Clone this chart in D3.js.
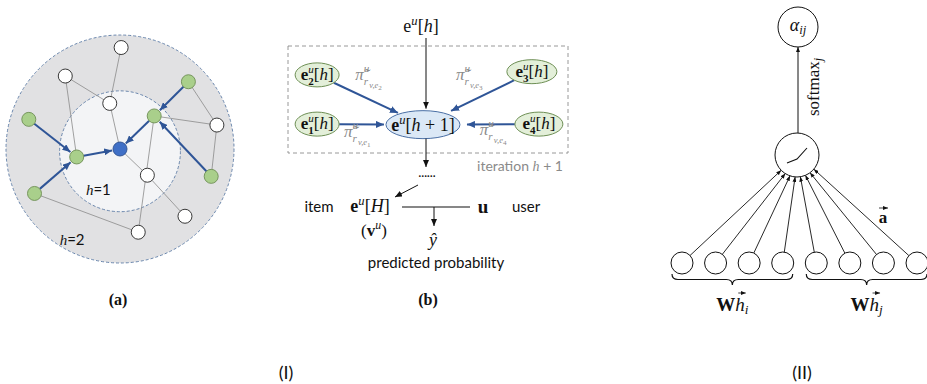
<!doctype html>
<html lang="en">
<head>
<meta charset="UTF-8">
<title>KGAT / GAT figure</title>
<script src="https://cdn.jsdelivr.net/npm/d3@7"></script>
<style>
  body { margin: 0; background: #fff; }
  text { fill: #111; }
</style>
</head>
<body>
<svg id="fig" width="927" height="384"></svg>
<script>
// ---------- panel (a): graph, in units of the outer ring radius ----------
const graphNodes = [
  {id: 'w0', kind: 'white', x: 0.01, y: -0.89},
  {id: 'w1', kind: 'white', x: -0.48, y: -0.64},
  {id: 'w2', kind: 'white', x: -0.09, y: -0.40},
  {id: 'g0', kind: 'green', x: 0.60, y: -0.59},
  {id: 'g1', kind: 'green', x: 0.30, y: -0.29},
  {id: 'w3', kind: 'white', x: 0.85, y: -0.21},
  {id: 'g2', kind: 'green', x: -0.80, y: -0.26},
  {id: 'g3', kind: 'green', x: -0.38, y: 0.07},
  {id: 'c', kind: 'target', x: 0, y: 0},
  {id: 'w4', kind: 'white', x: 0.24, y: 0.23},
  {id: 'g4', kind: 'green', x: 0.80, y: 0.24},
  {id: 'g5', kind: 'green', x: -0.75, y: 0.39},
  {id: 'w5', kind: 'white', x: 0.57, y: 0.59},
  {id: 'w6', kind: 'white', x: 0.16, y: 0.73}
];
const graphEdges = [
  ['w0', 'w2'], ['w1', 'w2'], ['w1', 'g3'], ['w2', 'c'], ['g1', 'w3'],
  ['g0', 'w3'], ['w3', 'g4'], ['c', 'w4'], ['g1', 'w6'], ['w4', 'w5'], ['g5', 'w6']
];
const graphArrows = [
  ['g2', 'g3'], ['g5', 'g3'], ['g3', 'c'], ['g0', 'g1'], ['g1', 'c'], ['g4', 'g1']
];
const rings = [1, 0.53];
const hopLabels = [{hop: '2', x: -0.42, y: 0.80}, {hop: '1', x: -0.19, y: 0.36}];

// ---------- panel (b): propagation, in units of the dashed box ----------
const neighbours = [
  {k: '1', x: 0.104, y: 0.73, rx: 22, gap: 2, pi: {x: 0.20, y: 0.85}},
  {k: '2', x: 0.104, y: 0.27, rx: 22, gap: 2, pi: {x: 0.24, y: 0.32}},
  {k: '3', x: 0.871, y: 0.24, rx: 25, gap: 6, pi: {x: 0.60, y: 0.32}},
  {k: '4', x: 0.896, y: 0.73, rx: 24, gap: 7, pi: {x: 0.685, y: 0.83}}
];
const hub = {x: 0.482, y: 0.735};

// ---------- panel (II): attention ----------
const inputs = d3.range(8);
const inputGroups = [{sub: 'i', from: 0, to: 3}, {sub: 'j', from: 4, to: 7}];

const serif = '"Liberation Serif", "DejaVu Serif", serif';
const sans = 'Lato, "Open Sans", sans-serif';

const svg = d3.select('#fig');
const defs = svg.append('defs');
function marker(id, color, w, h) {
  defs.append('marker').attr('id', id)
    .attr('markerUnits', 'userSpaceOnUse')
    .attr('viewBox', `0 0 ${w} ${h}`)
    .attr('refX', w).attr('refY', h / 2)
    .attr('markerWidth', w).attr('markerHeight', h)
    .attr('orient', 'auto')
    .append('path').attr('d', `M0,0L${w},${h / 2}L0,${h}z`).attr('fill', color);
}
marker('blue', '#2f5597', 8, 7);
marker('black', '#111', 7, 6);
marker('tiny', '#111', 5, 4);

// text made of pieces: base, sup (dy<0), sub (dy>0), stacked under previous
function math(sel, x, y, parts, size, opts = {}) {
  const t = sel.append('text').attr('x', x).attr('y', y)
    .attr('font-family', opts.family || serif).attr('font-size', size)
    .attr('text-anchor', opts.anchor || 'middle');
  if (opts.fill) t.style('fill', opts.fill);
  let shift = 0, lastLen = 0, pending = 0;
  parts.forEach(p => {
    const target = p.dy || 0;
    const ts = t.append('tspan').text(p.t)
      .attr('font-size', size * (p.s || 1))
      .attr('dy', target - shift);
    if (p.b) ts.attr('font-weight', 'bold');
    if (p.i) ts.attr('font-style', 'italic');
    if (p.family) ts.attr('font-family', p.family);
    let dx = pending + (p.dx || 0);
    pending = 0;
    if (p.stack) dx = -lastLen;
    if (dx) ts.attr('dx', dx);
    const len = ts.node().getComputedTextLength();
    if (p.stack && lastLen > len) pending = lastLen - len;
    shift = target;
    lastLen = len;
  });
  return t;
}
function vecArrow(sel, x1, x2, y) {
  sel.append('line').attr('x1', x1).attr('x2', x2).attr('y1', y).attr('y2', y)
    .attr('stroke', '#111').attr('stroke-width', 0.8).attr('marker-end', 'url(#tiny)');
}

// ======================= panel (a) =======================
const ax = d3.scaleLinear().domain([-1, 1]).range([6, 234]);
const ay = d3.scaleLinear().domain([-1, 1]).range([35, 263]);
const ar = d => ax(d) - ax(0);
const pa = svg.append('g');
pa.selectAll('circle.ring').data(rings).join('circle')
  .attr('cx', ax(0)).attr('cy', (d, i) => ay(i ? 0.02 : 0)).attr('r', ar)
  .attr('fill', (d, i) => i ? '#f3f4f6' : '#e1e1e3')
  .attr('stroke', '#5b7aa5').attr('stroke-width', 0.9).attr('stroke-dasharray', '3,2');

const byId = new Map(graphNodes.map(d => [d.id, d]));
const nodeR = 7;
pa.selectAll('line.edge').data(graphEdges).join('line')
  .attr('x1', d => ax(byId.get(d[0]).x)).attr('y1', d => ay(byId.get(d[0]).y))
  .attr('x2', d => ax(byId.get(d[1]).x)).attr('y2', d => ay(byId.get(d[1]).y))
  .attr('stroke', '#8a8a8a').attr('stroke-width', 0.8);

function trimmed(x1, y1, x2, y2, a, b) {
  const dx = x2 - x1, dy = y2 - y1, L = Math.hypot(dx, dy);
  return [x1 + dx * a / L, y1 + dy * a / L, x2 - dx * b / L, y2 - dy * b / L];
}
pa.selectAll('line.arrow').data(graphArrows).join('line')
  .each(function (d) {
    const s = byId.get(d[0]), e = byId.get(d[1]);
    const p = trimmed(ax(s.x), ay(s.y), ax(e.x), ay(e.y), nodeR, nodeR + 1);
    d3.select(this).attr('x1', p[0]).attr('y1', p[1]).attr('x2', p[2]).attr('y2', p[3]);
  })
  .attr('stroke', '#2f5597').attr('stroke-width', 2).attr('marker-end', 'url(#blue)');

const nodeFill = {white: '#fff', green: '#a9cf8b', target: '#3f6fc6'};
const nodeStroke = {white: '#222', green: '#6e8f55', target: '#2c4f8f'};
pa.selectAll('circle.node').data(graphNodes).join('circle')
  .attr('cx', d => ax(d.x)).attr('cy', d => ay(d.y)).attr('r', nodeR)
  .attr('fill', d => nodeFill[d.kind]).attr('stroke', d => nodeStroke[d.kind])
  .attr('stroke-width', 0.9);

hopLabels.forEach(d => {
  math(pa, ax(d.x), ay(d.y) + 5, [{t: 'h', i: 1, family: serif}, {t: '=' + d.hop}], 15, {family: sans});
});
svg.append('text').attr('x', 118).attr('y', 305).attr('text-anchor', 'middle')
  .attr('font-family', serif).attr('font-weight', 'bold').attr('font-size', 16).text('(a)');

// ======================= panel (b) =======================
const bx = d3.scaleLinear().domain([0, 1]).range([288, 568]);
const by = d3.scaleLinear().domain([0, 1]).range([46, 153]);
const pb = svg.append('g');
pb.append('rect').attr('x', bx(0)).attr('y', by(0))
  .attr('width', bx(1) - bx(0)).attr('height', by(1) - by(0))
  .attr('fill', 'none').attr('stroke', '#8c8c8c').attr('stroke-width', 0.9)
  .attr('stroke-dasharray', '4,3');

const hubR = {rx: 37, ry: 14};
const hx = bx(hub.x), hy = by(hub.y);
function ellipseT(dx, dy, rx, ry) { return 1 / Math.sqrt((dx / rx) ** 2 + (dy / ry) ** 2); }

neighbours.forEach(d => {
  const cx = bx(d.x), cy = by(d.y), dx = hx - cx, dy = hy - cy;
  const t0 = ellipseT(dx, dy, d.rx, 12), t1 = ellipseT(dx, dy, hubR.rx, hubR.ry);
  const L = Math.hypot(dx, dy);
  pb.append('line')
    .attr('x1', cx + dx * t0).attr('y1', cy + dy * t0)
    .attr('x2', hx - dx * t1 - dx / L * d.gap).attr('y2', hy - dy * t1 - dy / L * d.gap)
    .attr('stroke', '#2f5597').attr('stroke-width', 2).attr('marker-end', 'url(#blue)');
  pb.append('ellipse').attr('cx', cx).attr('cy', cy).attr('rx', d.rx).attr('ry', 12)
    .attr('fill', '#e3efd9').attr('stroke', '#6e8f55').attr('stroke-width', 1);
  math(pb, cx, cy + 5, [
    {t: 'e', b: 1}, {t: 'u', i: 1, s: 0.65, dy: -7}, {t: d.k, b: 1, s: 0.65, dy: 5, stack: 1},
    {t: '[', dy: 0}, {t: 'h', i: 1}, {t: ']'}], 17);
  math(pb, bx(d.pi.x), by(d.pi.y), [
    {t: 'π̃', i: 1}, {t: 'u', i: 1, s: 0.65, dy: -8}, {t: 'r', i: 1, s: 0.65, dy: 5, stack: 1},
    {t: 'v,e', i: 1, s: 0.5, dy: 8}, {t: d.k, s: 0.42, dy: 10}], 17,
    {anchor: 'start', fill: '#8a8a8a'});
});

// vertical flow
pb.append('line').attr('x1', 426).attr('x2', 426).attr('y1', 38).attr('y2', hy - hubR.ry - 2)
  .attr('stroke', '#111').attr('stroke-width', 1).attr('marker-end', 'url(#black)');
pb.append('ellipse').attr('cx', hx).attr('cy', hy).attr('rx', hubR.rx).attr('ry', hubR.ry)
  .attr('fill', '#dbe8f6').attr('stroke', '#4a6fa5').attr('stroke-width', 1);
math(pb, hx, hy + 6, [{t: 'e', b: 1}, {t: 'u', i: 1, s: 0.7, dy: -7}, {t: '[', dy: 0},
  {t: 'h', i: 1}, {t: ' + 1]'}], 18);
math(pb, 421, 32, [{t: 'e'}, {t: 'u', i: 1, s: 0.7, dy: -7}, {t: '[', dy: 0}, {t: 'h', i: 1}, {t: ']'}], 18);
pb.append('line').attr('x1', 426).attr('x2', 426).attr('y1', hy + hubR.ry).attr('y2', 167)
  .attr('stroke', '#111').attr('stroke-width', 1).attr('marker-end', 'url(#black)');
math(pb, 563, 171, [{t: 'iteration '}, {t: 'h', i: 1, family: serif}, {t: ' + 1'}], 14,
  {anchor: 'end', family: sans, fill: '#8a8a8a'});
pb.append('text').attr('x', 427).attr('y', 177).attr('text-anchor', 'middle')
  .attr('font-family', sans).attr('font-size', 11).attr('font-weight', 'bold').text('……');
pb.append('line').attr('x1', 418).attr('y1', 185).attr('x2', 395).attr('y2', 197)
  .attr('stroke', '#111').attr('stroke-width', 1).attr('marker-end', 'url(#black)');

pb.append('text').attr('x', 319).attr('y', 212).attr('text-anchor', 'middle')
  .attr('font-family', sans).attr('font-size', 15).text('item');
math(pb, 370, 212, [{t: 'e', b: 1}, {t: 'u', i: 1, s: 0.7, dy: -7}, {t: '[', dy: 0},
  {t: 'H', i: 1}, {t: ']'}], 18);
math(pb, 374, 236, [{t: '('}, {t: 'v', b: 1}, {t: 'u', i: 1, s: 0.7, dy: -7}, {t: ')', dy: 0}], 17);
pb.append('line').attr('x1', 402).attr('x2', 470).attr('y1', 207).attr('y2', 207)
  .attr('stroke', '#111').attr('stroke-width', 1.2);
pb.append('line').attr('x1', 434).attr('x2', 434).attr('y1', 207).attr('y2', 226)
  .attr('stroke', '#111').attr('stroke-width', 1).attr('marker-end', 'url(#black)');
pb.append('text').attr('x', 483).attr('y', 213).attr('text-anchor', 'middle')
  .attr('font-family', serif).attr('font-weight', 'bold').attr('font-size', 19).text('u');
pb.append('text').attr('x', 526).attr('y', 212).attr('text-anchor', 'middle')
  .attr('font-family', sans).attr('font-size', 15).text('user');
math(pb, 433, 246, [{t: 'ŷ', i: 1}], 18);
pb.append('text').attr('x', 436).attr('y', 268).attr('text-anchor', 'middle')
  .attr('font-family', sans).attr('font-size', 15).text('predicted probability');
svg.append('text').attr('x', 428).attr('y', 305).attr('text-anchor', 'middle')
  .attr('font-family', serif).attr('font-weight', 'bold').attr('font-size', 16).text('(b)');

// ======================= panel (II) =======================
const px = d3.scalePoint().domain(inputs).range([682, 917]);
const inY = 263, inR = 11;
const main = {x: 797, y: 155, r: 22};
const alpha = {x: 798, y: 27, r: 20};
const ang = d3.scaleLinear().domain([0, 7]).range([136, 40]);
const pc = svg.append('g');

inputs.forEach(i => {
  const a = ang(i) * Math.PI / 180;
  const tx = main.x + main.r * Math.cos(a), ty = main.y + main.r * Math.sin(a);
  const p = trimmed(px(i), inY, tx, ty, inR, 0);
  pc.append('line').attr('x1', p[0]).attr('y1', p[1]).attr('x2', p[2]).attr('y2', p[3])
    .attr('stroke', '#111').attr('stroke-width', 0.9).attr('marker-end', 'url(#tiny)');
});
pc.selectAll('circle.in').data(inputs).join('circle')
  .attr('cx', d => px(d)).attr('cy', inY).attr('r', inR)
  .attr('fill', '#fff').attr('stroke', '#111').attr('stroke-width', 1);

pc.append('circle').attr('cx', main.x).attr('cy', main.y).attr('r', main.r)
  .attr('fill', '#fff').attr('stroke', '#111').attr('stroke-width', 1);
pc.append('path').attr('d', d3.line()([[main.x - 10, main.y + 8], [main.x, main.y + 4], [main.x + 10, main.y - 7]]))
  .attr('fill', 'none').attr('stroke', '#111').attr('stroke-width', 1.1);
pc.append('line').attr('x1', alpha.x).attr('x2', alpha.x).attr('y1', main.y - main.r)
  .attr('y2', alpha.y + alpha.r).attr('stroke', '#111').attr('stroke-width', 1)
  .attr('marker-end', 'url(#tiny)');
pc.append('circle').attr('cx', alpha.x).attr('cy', alpha.y).attr('r', alpha.r)
  .attr('fill', '#fff').attr('stroke', '#111').attr('stroke-width', 1);
math(pc, alpha.x, alpha.y + 4, [{t: 'α', i: 1}, {t: 'ij', i: 1, s: 0.7, dy: 3}], 18);
math(pc.append('g').attr('transform', 'translate(819,87) rotate(-90)'), 0, 0,
  [{t: 'softmax'}, {t: 'j', i: 1, s: 0.7, dy: 3}], 17);
pc.append('text').attr('x', 883).attr('y', 223).attr('text-anchor', 'middle')
  .attr('font-family', serif).attr('font-weight', 'bold').attr('font-size', 17).text('a');
vecArrow(pc, 879, 888, 208);

function brace(x1, x2, y0, d) {
  const xm = (x1 + x2) / 2, h = y0 + d / 2, r = 6;
  return `M${x1},${y0}Q${x1},${h} ${x1 + r},${h}L${xm - r},${h}Q${xm},${h} ${xm},${y0 + d}` +
    `Q${xm},${h} ${xm + r},${h}L${x2 - r},${h}Q${x2},${h} ${x2},${y0}`;
}
inputGroups.forEach(g => {
  const x1 = px(g.from) - inR + 1, x2 = px(g.to) + inR - 1;
  pc.append('path').attr('d', brace(x1, x2, 274, 11))
    .attr('fill', 'none').attr('stroke', '#111').attr('stroke-width', 1.2);
  const t = math(pc, (x1 + x2) / 2, 311, [{t: 'W', b: 1}, {t: 'h', i: 1}, {t: g.sub, i: 1, s: 0.7, dy: 3}], 19);
  const ext = t.node().getExtentOfChar(1);
  vecArrow(pc, ext.x + 3, ext.x + ext.width + 1, ext.y - 1);
});

// panel group labels
svg.append('text').attr('x', 286).attr('y', 379).attr('text-anchor', 'middle')
  .attr('font-family', sans).attr('font-size', 18).text('(I)');
svg.append('text').attr('x', 802).attr('y', 379).attr('text-anchor', 'middle')
  .attr('font-family', sans).attr('font-size', 18).text('(II)');
</script>
</body>
</html>
